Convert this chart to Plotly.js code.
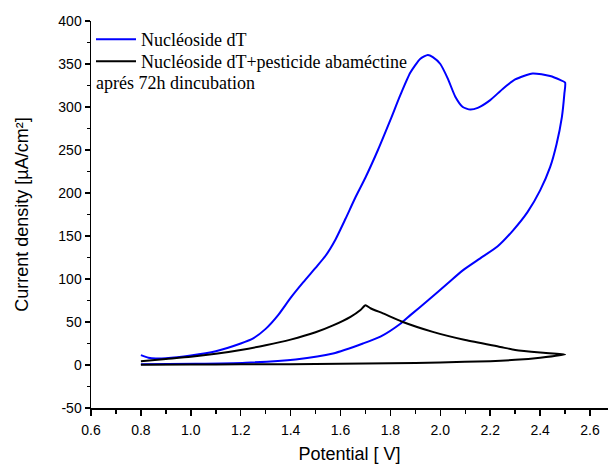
<!DOCTYPE html>
<html>
<head>
<meta charset="utf-8">
<script src="https://cdn.plot.ly/plotly-3.0.1.min.js"></script>
<style>html,body{margin:0;padding:0;background:#fff;}#chart{width:608px;height:464px;}</style>
</head>
<body>
<div id="chart"></div>
<script>
// Nucléoside dT (blue) – forward then reverse scan
const blueV = [0.80,0.83,0.86,0.90,1.00,1.10,1.20,1.25,1.30,1.35,1.40,1.45,1.50,1.54,1.58,1.62,1.66,1.70,1.75,1.80,1.84,1.88,1.92,1.95,1.97,2.00,2.03,2.06,2.09,2.12,2.15,2.20,2.25,2.30,2.37,2.44,2.48,2.50,
               2.497,2.487,2.466,2.44,2.40,2.35,2.29,2.23,2.16,2.09,2.03,1.95,1.88,1.84,1.76,1.69,1.57,1.42,1.22,1.02,0.80];
const blueJ = [11.5,8.5,7.5,7.8,11,16,25,31,42,58,78,96,113,127,146,170,195,218,250,285,314,340,356,360.5,358,350,333,312,300,297,299,308,321,332,339,336,331.5,328.5,
               315,288,257,230,203,178,156,138,124,110,95,75,58,48,33,25,13.4,6.5,2.6,1.4,1];
// Nucléoside dT + pesticide abaméctine (black)
const blackV = [0.80,0.90,1.00,1.10,1.20,1.30,1.40,1.50,1.57,1.64,1.68,1.70,1.72,1.77,1.85,1.97,2.10,2.24,2.30,2.40,2.50,
                2.40,2.30,2.20,2.00,1.80,1.60,1.40,1.20,1.00,0.80];
const blackJ = [4.5,7,9.5,13,17.5,23,29.5,38,46,56,64,69.5,66,60,50,38.5,29,21,17.5,14.5,12.3,
                8.5,6,4.5,3,2,1.5,1,0.8,0.5,0.3];

const names = ['Nucléoside dT', 'Nucléoside dT+pesticide abaméctine'];
const extraLegendLine = 'aprés 72h dincubation';
const xTitle = 'Potential [ V]';
const yTitle = 'Current density [µA/cm²]';
const yTickVals = [-50, 0, 50, 100, 150, 200, 250, 300, 350, 400];
const yTickText = ['-50', '0', '50', '100', '150', '200', '250', '300', '350', '400'];

const traces = [
  {x: blueV, y: blueJ, type: 'scatter', mode: 'lines', name: names[0], legend: 'legend',
   line: {color: '#0000ff', width: 2, shape: 'spline', smoothing: 0.6}},
  {x: blackV, y: blackJ, type: 'scatter', mode: 'lines', name: names[1], legend: 'legend2',
   line: {color: '#000000', width: 2, shape: 'spline', smoothing: 0.6}}
];

const axFont = {family: 'Liberation Sans, Arial, sans-serif', size: 14, color: '#000'};
const legFont = {family: 'Liberation Serif, Times New Roman, serif', size: 18, color: '#000'};
const layout = {
  width: 608, height: 464,
  margin: {l: 91, r: 0, t: 21, b: 56},
  paper_bgcolor: '#fff', plot_bgcolor: '#fff',
  showlegend: true,
  legend: {x: 0.0, y: 1.0, xanchor: 'left', yanchor: 'top', bgcolor: 'rgba(0,0,0,0)',
           font: legFont, itemwidth: 40},
  legend2: {x: 0.0, y: 0.943, xanchor: 'left', yanchor: 'top', bgcolor: 'rgba(0,0,0,0)',
           font: legFont, itemwidth: 40},
  xaxis: {range: [0.6, 2.672], dtick: 0.2, tick0: 0.6, tickformat: '.1f',
          showgrid: false, zeroline: false, showline: true, linecolor: '#000', linewidth: 1.5,
          ticks: 'outside', ticklen: 6, tickwidth: 1.5, tickcolor: '#000', ticklabelstandoff: 3,
          minor: {dtick: 0.1, ticks: 'outside', ticklen: 4, tickwidth: 1.5, tickcolor: '#000'},
          tickfont: axFont,
          title: {text: xTitle, font: {family: 'Liberation Sans, Arial, sans-serif', size: 18, color: '#000'}, standoff: 14}},
  xaxis2: {range: [0.6, 2.672], overlaying: 'x', side: 'top', anchor: 'y',
           showgrid: false, zeroline: false, showline: true, linecolor: '#000', linewidth: 1.5,
           ticks: 'inside', ticklen: 2, dtick: 0.1, tick0: 0.6, tickcolor: '#999', showticklabels: false},
  yaxis: {range: [-50, 400], tickmode: 'array', tickvals: yTickVals, ticktext: yTickText,
          showgrid: false, zeroline: false, showline: true, linecolor: '#000', linewidth: 1.5,
          ticks: 'outside', ticklen: 5, tickwidth: 1.5, tickcolor: '#000',
          minor: {dtick: 25, tick0: 0, ticks: 'outside', ticklen: 3, tickwidth: 1.5, tickcolor: '#000'},
          tickfont: axFont,
          title: {text: yTitle, font: {family: 'Liberation Sans, Arial, sans-serif', size: 18, color: '#000'}, standoff: 25}},
  annotations: [
    {text: extraLegendLine, xref: 'paper', yref: 'paper', x: 0.006, y: 0.840, xanchor: 'left', yanchor: 'middle',
     showarrow: false, font: legFont}
  ]
};

Plotly.newPlot('chart', traces, layout, {displayModeBar: false, staticPlot: true});
</script>
</body>
</html>
